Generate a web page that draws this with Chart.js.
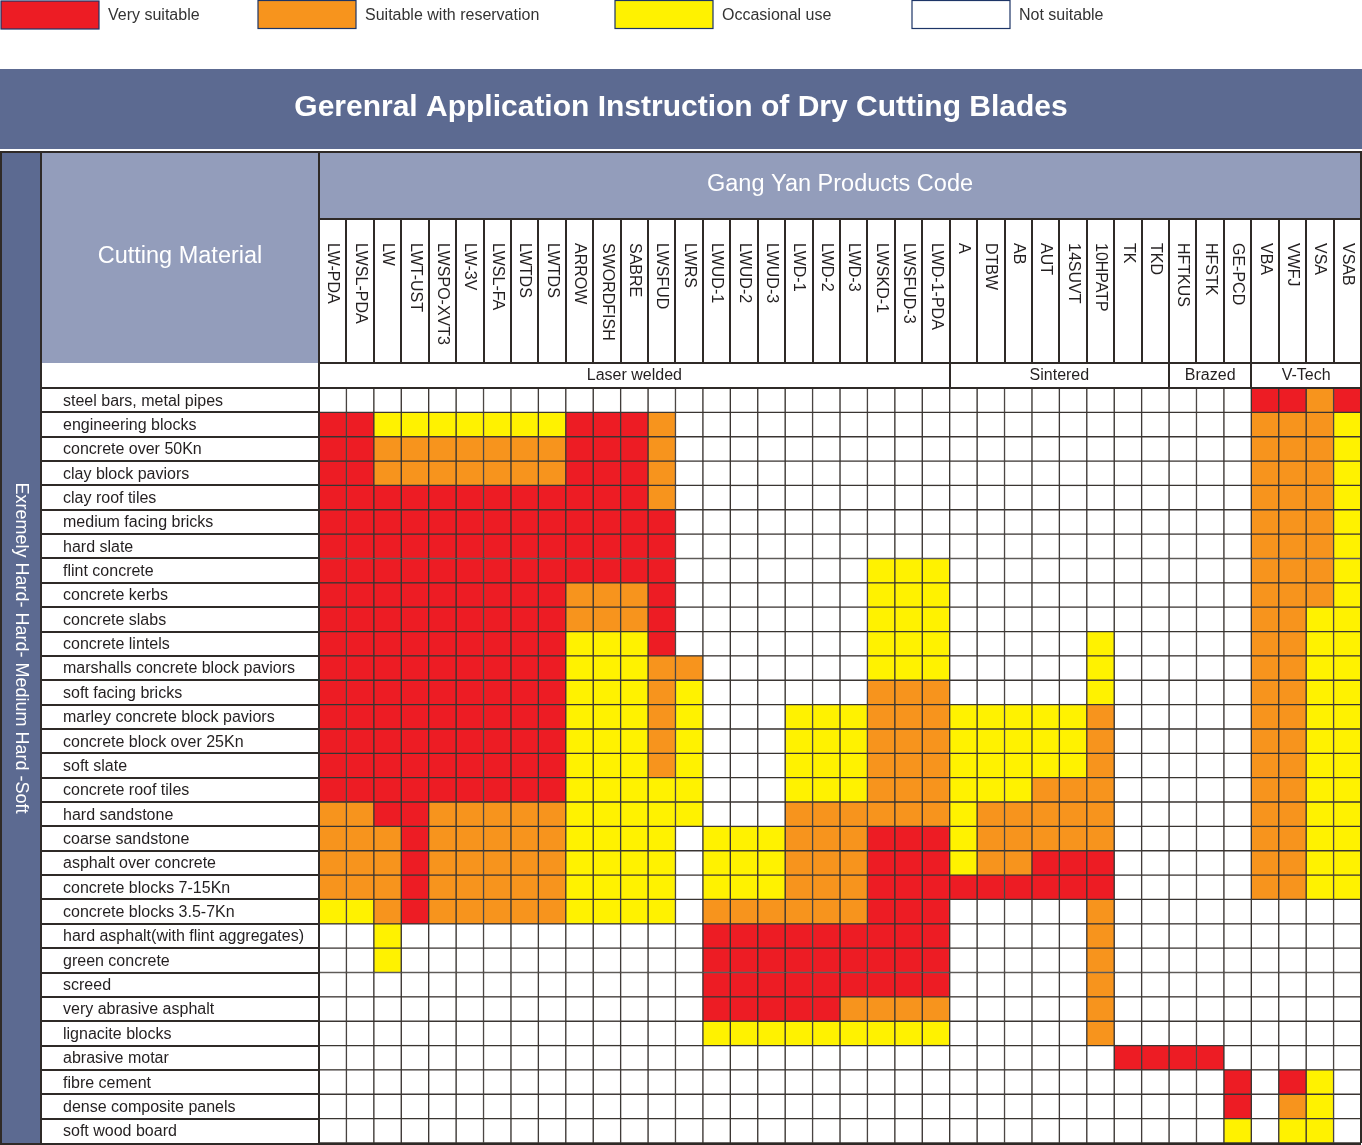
<!DOCTYPE html>
<html>
<head>
<meta charset="utf-8">
<title>Dry Cutting Blades</title>
<script src="https://cdn.jsdelivr.net/npm/chart.js@4.4.0/dist/chart.umd.min.js"></script>
<style>
	html, body { margin: 0; padding: 0; background: #fff; }
	#wrap { position: relative; width: 1362px; height: 1145px; }
</style>
</head>
<body>
<div id="wrap"><canvas id="chart"></canvas></div>
<script>
const title = "Gerenral Application Instruction of Dry Cutting Blades";
const sideTitle = "Exremely Hard- Hard- Medium Hard -Soft";

const products = [
	"LW-PDA", "LWSL-PDA", "LW", "LWT-UST", "LWSPO-XVT3", "LW-3V", "LWSL-FA", "LWTDS", "LWTDS",
	"ARROW", "SWORDFISH", "SABRE", "LWSFUD", "LWRS", "LWUD-1", "LWUD-2", "LWUD-3", "LWD-1",
	"LWD-2", "LWD-3", "LWSKD-1", "LWSFUD-3", "LWD-1-PDA",
	"A", "DTBW", "AB", "AUT", "14SUVT", "10HPATP", "TK", "TKD",
	"HFTKUS", "HFSTK", "GE-PCD",
	"VBA", "VWFJ", "VSA", "VSAB"
];

const groups = ["Laser welded", "Sintered", "Brazed", "V-Tech"];
const groupCounts = [23, 8, 3, 4];

const materials = [
	"steel bars, metal pipes", "engineering blocks", "concrete over 50Kn", "clay block paviors",
	"clay roof tiles", "medium facing bricks", "hard slate", "flint concrete", "concrete kerbs",
	"concrete slabs", "concrete lintels", "marshalls concrete block paviors", "soft facing bricks",
	"marley concrete block paviors", "concrete block over 25Kn", "soft slate", "concrete roof tiles",
	"hard sandstone", "coarse sandstone", "asphalt over concrete", "concrete blocks 7-15Kn",
	"concrete blocks 3.5-7Kn", "hard asphalt(with flint aggregates)", "green concrete", "screed",
	"very abrasive asphalt", "lignacite blocks", "abrasive motar", "fibre cement",
	"dense composite panels", "soft wood board"
];

const levels = ["Very suitable", "Suitable with reservation", "Occasional use", "Not suitable"];
const levelKeys = ["R", "O", "Y", "."];
const levelColors = ["#ed1c24", "#f7941d", "#fff200", "#ffffff"];

// one string per material, columns split by group: laser welded | sintered | brazed | v-tech
const ratings = [
	".......................|........|...|RROR",
	"RRYYYYYYYRRRO..........|........|...|OOOY",
	"RROOOOOOORRRO..........|........|...|OOOY",
	"RROOOOOOORRRO..........|........|...|OOOY",
	"RRRRRRRRRRRRO..........|........|...|OOOY",
	"RRRRRRRRRRRRR..........|........|...|OOOY",
	"RRRRRRRRRRRRR..........|........|...|OOOY",
	"RRRRRRRRRRRRR.......YYY|........|...|OOOY",
	"RRRRRRRRROOOR.......YYY|........|...|OOOY",
	"RRRRRRRRROOOR.......YYY|........|...|OOYY",
	"RRRRRRRRRYYYR.......YYY|.....Y..|...|OOYY",
	"RRRRRRRRRYYYOO......YYY|.....Y..|...|OOYY",
	"RRRRRRRRRYYYOY......OOO|.....Y..|...|OOYY",
	"RRRRRRRRRYYYOY...YYYOOO|YYYYYO..|...|OOYY",
	"RRRRRRRRRYYYOY...YYYOOO|YYYYYO..|...|OOYY",
	"RRRRRRRRRYYYOY...YYYOOO|YYYYYO..|...|OOYY",
	"RRRRRRRRRYYYYY...YYYOOO|YYYOOO..|...|OOYY",
	"OORROOOOOYYYYY...OOOOOO|YOOOOO..|...|OOYY",
	"OOOROOOOOYYYY.YYYOOORRR|YOOOOO..|...|OOYY",
	"OOOROOOOOYYYY.YYYOOORRR|YOORRR..|...|OOYY",
	"OOOROOOOOYYYY.YYYOOORRR|RRRRRR..|...|OOYY",
	"YYOROOOOOYYYY.OOOOOORRR|.....O..|...|....",
	"..Y...........RRRRRRRRR|.....O..|...|....",
	"..Y...........RRRRRRRRR|.....O..|...|....",
	"..............RRRRRRRRR|.....O..|...|....",
	"..............RRRRROOOO|.....O..|...|....",
	"..............YYYYYYYYY|.....O..|...|....",
	".......................|......RR|RR.|....",
	".......................|........|..R|.RY.",
	".......................|........|..R|.OY.",
	".......................|........|..Y|.YY."
];

const grid = ratings.map((row) => row.replace(/\|/g, ""));

const FONT = "'Liberation Sans', Arial, Helvetica, sans-serif";
const lineColor = "#2f2a27";
const bannerColor = "#5c6a91";
const headColor = "#939dbb";
const textColor = "#231f20";

const tablePlugin = {
	id: "tablePlugin",
	beforeDraw(chart) {
		const {ctx, chartArea: area, scales: {x, y}} = chart;
		const W = chart.width;
		ctx.save();
		ctx.fillStyle = "#fff";
		ctx.fillRect(0, 0, W, chart.height);

		// legend
		const legendX = [1, 258, 615, 912];
		ctx.font = "16px " + FONT;
		ctx.textBaseline = "middle";
		ctx.textAlign = "left";
		levels.forEach((name, i) => {
			const lx = legendX[i];
			ctx.fillStyle = levelColors[i];
			ctx.fillRect(lx, i === 0 ? 1 : 0.5, 98, 28);
			ctx.strokeStyle = "#1d3567";
			ctx.lineWidth = 1.2;
			ctx.strokeRect(lx, i === 0 ? 1 : 0.5, 98, 28);
			ctx.fillStyle = "#333";
			ctx.fillText(name, lx + 107, 16);
		});

		// title banner
		ctx.fillStyle = bannerColor;
		ctx.fillRect(0, 69, W, 80);
		ctx.fillStyle = "#fff";
		ctx.font = "bold 30px " + FONT;
		ctx.textAlign = "center";
		ctx.fillText(title, W / 2, 108);

		// side bar
		ctx.fillStyle = bannerColor;
		ctx.fillRect(0, 152, 41, chart.height - 152);
		ctx.save();
		ctx.translate(21, 648);
		ctx.rotate(Math.PI / 2);
		ctx.fillStyle = "#fff";
		ctx.font = "18px " + FONT;
		ctx.fillText(sideTitle, 0, 0);
		ctx.restore();

		// header cells
		ctx.fillStyle = headColor;
		ctx.fillRect(41, 152, area.left - 41, 211);
		ctx.fillRect(area.left, 152, area.right - area.left, 67);
		ctx.fillStyle = "#fff";
		ctx.font = "23.5px " + FONT;
		ctx.fillText("Cutting Material", (41 + area.left) / 2, 257);
		ctx.fillText("Gang Yan Products Code", (area.left + area.right) / 2, 185);

		// product codes, written downwards
		ctx.fillStyle = textColor;
		ctx.font = "16px " + FONT;
		products.forEach((code, c) => {
			const cx = (x.getPixelForValue(c) + x.getPixelForValue(c + 1)) / 2;
			ctx.save();
			ctx.translate(cx, 243);
			ctx.rotate(Math.PI / 2);
			ctx.textAlign = "left";
			ctx.fillText(code, 0, 0);
			ctx.restore();
		});

		// group names
		ctx.textAlign = "center";
		let start = 0;
		groups.forEach((g, i) => {
			const end = start + groupCounts[i];
			ctx.fillText(g, (x.getPixelForValue(start) + x.getPixelForValue(end)) / 2, 376);
			start = end;
		});

		// material names
		ctx.textAlign = "left";
		materials.forEach((m, r) => {
			ctx.fillText(m, 63, y.getPixelForValue(r) + 1);
		});
		ctx.restore();
	},
	afterDraw(chart) {
		const {ctx, chartArea: area, scales: {x}} = chart;
		const rowH = (area.bottom - area.top) / materials.length;
		const line = (x1, y1, x2, y2) => {
			ctx.beginPath();
			ctx.moveTo(x1, y1);
			ctx.lineTo(x2, y2);
			ctx.stroke();
		};
		ctx.save();
		ctx.strokeStyle = lineColor;
		ctx.lineWidth = 2;

		line(0, 152, chart.width, 152);
		line(1, 152, 1, chart.height);
		line(41, 152, 41, chart.height);
		line(area.left, 152, area.left, area.bottom);
		line(area.right, 152, area.right, area.bottom);
		line(area.left, 219, area.right, 219);
		line(area.left, 363, area.right, 363);
		line(41, area.top, area.right, area.top);
		line(0, area.bottom + 1, area.right, area.bottom + 1);

		for (let c = 1; c < products.length; c++) {
			const px = Math.round(x.getPixelForValue(c));
			line(px, 219, px, 363);
		}
		let start = 0;
		groupCounts.forEach((n) => {
			start += n;
			const px = Math.round(x.getPixelForValue(start));
			line(px, 363, px, area.top);
		});
		for (let r = 1; r < materials.length; r++) {
			const py = Math.round(area.top + r * rowH);
			line(41, py, area.left, py);
		}
		ctx.restore();
	}
};

const datasets = products.map((code, c) => ({
	label: code,
	data: materials.map(() => [c, c + 1]),
	backgroundColor: grid.map((row) => levelColors[levelKeys.indexOf(row[c])]),
	borderColor: "#3a3532",
	borderWidth: 1,
	borderSkipped: false,
	grouped: false,
	barPercentage: 1,
	categoryPercentage: 1
}));

new Chart(document.getElementById("chart"), {
	type: "bar",
	data: {
		labels: materials,
		datasets
	},
	options: {
		indexAxis: "y",
		responsive: true,
		maintainAspectRatio: false,
		devicePixelRatio: 1,
		animation: false,
		layout: {
			padding: {left: 319, top: 388, right: 1, bottom: 2}
		},
		scales: {
			x: {type: "linear", min: 0, max: products.length, display: false},
			y: {type: "category", offset: true, display: false}
		},
		plugins: {
			legend: {display: false},
			tooltip: {enabled: false}
		}
	},
	plugins: [tablePlugin]
});
</script>
</body>
</html>
